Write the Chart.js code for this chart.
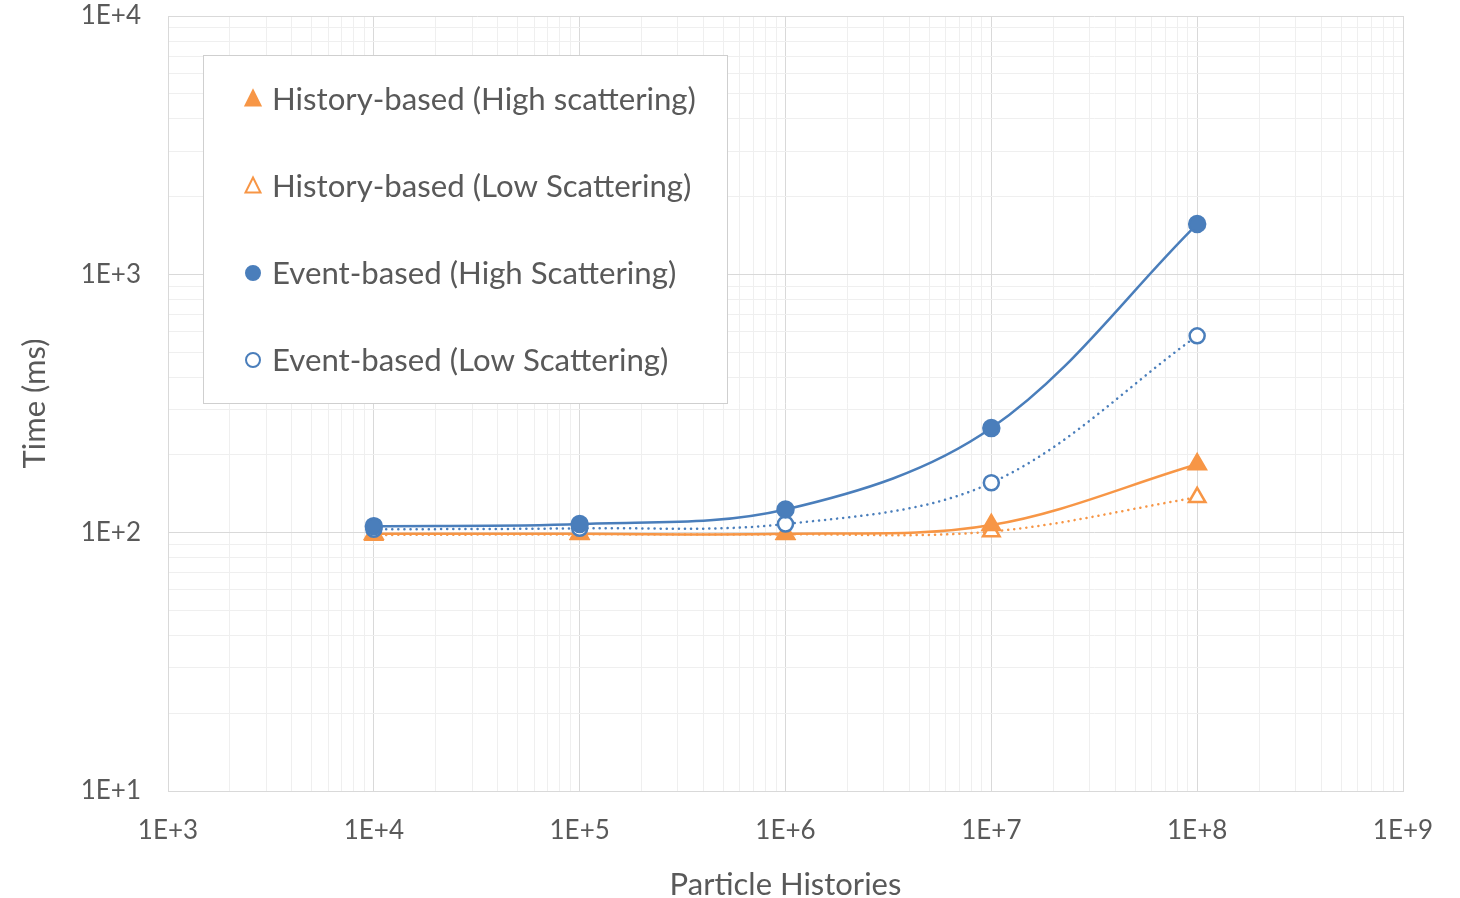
<!DOCTYPE html>
<html>
<head>
<meta charset="utf-8">
<script src="https://cdn.jsdelivr.net/npm/chart.js@4.4.1/dist/chart.umd.min.js"></script>
<style>
  html, body { margin: 0; padding: 0; background: #fff; }
  #wrap { width: 1460px; height: 898px; }
</style>
</head>
<body>
<div id="wrap"><canvas id="grafico" width="1460" height="898"></canvas></div>
<script>
// Datos
const particulas = [1e4, 1e5, 1e6, 1e7, 1e8];
const historyHigh = [99, 99, 99, 107, 184];
const historyLow = [98, 98.5, 98.5, 101, 137];
const eventHigh = [106, 108, 123, 254, 1565];
const eventLow = [103, 104, 108, 156, 578];

const etiquetas = [
  "History-based (High scattering)",
  "History-based (Low Scattering)",
  "Event-based (High Scattering)",
  "Event-based (Low Scattering)",
];

// Ticks de los ejes
const xMayores = [1e3, 1e4, 1e5, 1e6, 1e7, 1e8, 1e9];
const yMayores = [1e1, 1e2, 1e3, 1e4];
const multiplosMenores = [2, 3, 4, 5, 6, 7, 8, 9];

const azul = "#4a7ebb";
const naranja = "#f79646";
const fuente = "Lato, 'Open Sans', sans-serif";

const construirTicks = (mayores) => {
  const ticks = [];
  mayores.forEach((m, i) => {
    ticks.push({ value: m, major: true });
    if (i < mayores.length - 1) {
      multiplosMenores.forEach((k) => ticks.push({ value: m * k, major: false }));
    }
  });
  return ticks;
};

const aPuntos = (serie) => serie.map((y, i) => ({ x: particulas[i], y: y }));

// Leyenda dibujada dentro del área del gráfico
const leyendaCaja = {
  id: "leyendaCaja",
  afterDraw(chart) {
    const ctx = chart.ctx;
    ctx.save();
    ctx.fillStyle = "#ffffff";
    ctx.fillRect(203.5, 55.5, 524, 348);
    ctx.strokeStyle = "#cfcfcf";
    ctx.lineWidth = 1;
    ctx.strokeRect(203.5, 55.5, 524, 348);
    ctx.font = "31.2px " + fuente;
    ctx.textBaseline = "middle";
    chart.data.datasets.forEach((ds, i) => {
      const y = 99 + i * 87;
      const x = 253;
      ctx.lineWidth = 2;
      ctx.strokeStyle = ds.borderColor;
      ctx.fillStyle = ds.pointBackgroundColor;
      ctx.beginPath();
      if (ds.pointStyle === "triangle") {
        ctx.moveTo(x, y - 8.5);
        ctx.lineTo(x + 7.5, y + 6.5);
        ctx.lineTo(x - 7.5, y + 6.5);
        ctx.closePath();
      } else {
        ctx.arc(x, y, 7, 0, Math.PI * 2);
      }
      ctx.fill();
      ctx.stroke();
      ctx.fillStyle = "#595959";
      ctx.fillText(ds.label, 272, y + 1);
    });
    ctx.restore();
  },
};

const ctxGrafico = document.getElementById("grafico").getContext("2d");

new Chart(ctxGrafico, {
  type: "scatter",
  data: {
    datasets: [
      {
        label: etiquetas[0],
        data: aPuntos(historyHigh),
        showLine: true,
        borderColor: naranja,
        backgroundColor: naranja,
        pointBackgroundColor: naranja,
        pointBorderColor: naranja,
        pointStyle: "triangle",
        pointRadius: 10,
        borderWidth: 2.5,
        tension: 0.35,
        order: 2,
      },
      {
        label: etiquetas[1],
        data: aPuntos(historyLow),
        showLine: true,
        borderColor: naranja,
        backgroundColor: "#ffffff",
        pointBackgroundColor: "#ffffff",
        pointBorderColor: naranja,
        pointBorderWidth: 2.5,
        pointStyle: "triangle",
        pointRadius: 9.5,
        borderWidth: 2.5,
        borderDash: [0.1, 6],
        borderCapStyle: "round",
        tension: 0.35,
        order: 3,
      },
      {
        label: etiquetas[2],
        data: aPuntos(eventHigh),
        showLine: true,
        borderColor: azul,
        backgroundColor: azul,
        pointBackgroundColor: azul,
        pointBorderColor: azul,
        pointStyle: "circle",
        pointRadius: 8,
        borderWidth: 2.5,
        tension: 0.35,
        order: 0,
      },
      {
        label: etiquetas[3],
        data: aPuntos(eventLow),
        showLine: true,
        borderColor: azul,
        backgroundColor: "#ffffff",
        pointBackgroundColor: "#ffffff",
        pointBorderColor: azul,
        pointBorderWidth: 2.5,
        pointStyle: "circle",
        pointRadius: 7.5,
        borderWidth: 2.5,
        borderDash: [0.1, 6],
        borderCapStyle: "round",
        tension: 0.35,
        order: 1,
      },
    ],
  },
  options: {
    responsive: false,
    animation: false,
    layout: { padding: { top: 16, right: 57, left: 0, bottom: 0 } },
    plugins: {
      legend: { display: false },
      tooltip: { enabled: false },
    },
    scales: {
      x: {
        type: "logarithmic",
        min: 1e3,
        max: 1e9,
        afterBuildTicks: (eje) => { eje.ticks = construirTicks(xMayores); },
        afterFit: (eje) => {
          eje.height = 107;
          eje.paddingLeft = 0;
          eje.paddingRight = 0;
        },
        ticks: {
          autoSkip: false,
          maxRotation: 0,
          padding: 24,
          color: "#595959",
          font: { family: fuente, size: 26 },
          callback: (v) => (xMayores.includes(v) ? "1E+" + Math.round(Math.log10(v)) : ""),
        },
        grid: {
          drawTicks: false,
          color: (c) => (c.tick && c.tick.major ? "#d9d9d9" : "#efefef"),
          lineWidth: 1,
        },
        border: { color: "#d9d9d9" },
        title: {
          display: true,
          text: "Particle Histories",
          color: "#595959",
          font: { family: fuente, size: 31 },
          padding: { top: 17, bottom: -6 },
        },
      },
      y: {
        type: "logarithmic",
        min: 1e1,
        max: 1e4,
        afterBuildTicks: (eje) => { eje.ticks = construirTicks(yMayores); },
        afterFit: (eje) => {
          eje.width = 168;
          eje.paddingTop = 0;
          eje.paddingBottom = 0;
        },
        ticks: {
          autoSkip: false,
          padding: 27,
          color: "#595959",
          font: { family: fuente, size: 26 },
          callback: (v) => (yMayores.includes(v) ? "1E+" + Math.round(Math.log10(v)) : ""),
        },
        grid: {
          drawTicks: false,
          color: (c) => (c.tick && c.tick.major ? "#d9d9d9" : "#efefef"),
          lineWidth: 1,
        },
        border: { color: "#d9d9d9" },
        title: {
          display: true,
          text: "Time (ms)",
          color: "#595959",
          font: { family: fuente, size: 31 },
          padding: { top: 16, bottom: 0 },
        },
      },
    },
  },
  plugins: [leyendaCaja],
});
</script>
</body>
</html>
